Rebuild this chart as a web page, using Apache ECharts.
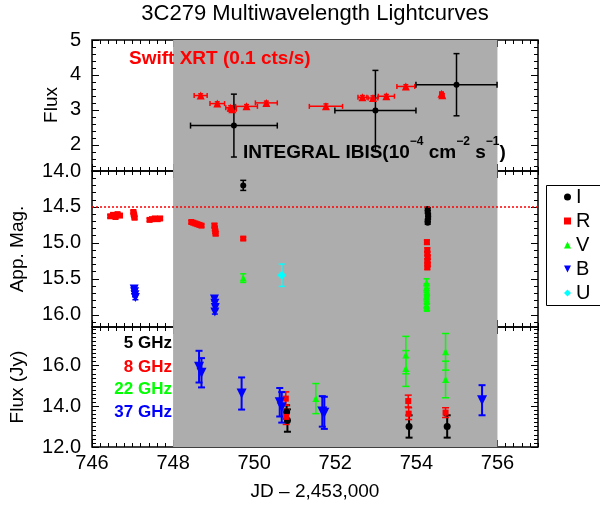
<!DOCTYPE html>
<html>
<head>
<meta charset="utf-8">
<script src="https://cdn.jsdelivr.net/npm/echarts@6/dist/echarts.min.js"></script>
<style>html,body{margin:0;padding:0;background:#fff}#c{width:600px;height:508px}</style>
</head>
<body>
<div id="c"></div>
<script>
// ---------------- data ----------------
const chartTitle = '3C279 Multiwavelength Lightcurves';
const xName = 'JD \u2013 2,453,000';
const xRange = [746, 757];
const xMajorTicks = [746, 748, 750, 752, 754, 756];
const xMinorStep = 0.2;
const shadeRange = [748, 756];

const topRange = [1.25, 5];
const topTicks = [2, 3, 4, 5];
const topMinorStep = 0.2;
const midRange = [14.0, 16.17];
const midTicks = [14.0, 14.5, 15.0, 15.5, 16.0];
const midMinorStep = 0.1;
const botRange = [12, 17.9];
const botTicks = [12, 14, 16];
const botMinorStep = 0.2;
const magLimit = 14.5;

// Swift XRT: [JD, flux(0.1 cts/s), xerr, yerr]
const swiftXrt = [
  [748.68, 3.41, 0.16, 0.05],
  [749.09, 3.18, 0.18, 0.05],
  [749.42, 3.06, 0.12, 0.06],
  [749.46, 3.02, 0.10, 0.05],
  [749.81, 3.10, 0.27, 0.05],
  [750.30, 3.20, 0.27, 0.05],
  [751.77, 3.10, 0.41, 0.07],
  [752.67, 3.36, 0.11, 0.05],
  [752.93, 3.34, 0.12, 0.06],
  [753.26, 3.39, 0.20, 0.05],
  [753.74, 3.67, 0.22, 0.05],
  [754.62, 3.46, 0.04, 0.04],
  [754.64, 3.42, 0.04, 0.04]
];
// INTEGRAL IBIS: [JD, flux(1e-4 cm-2 s-1), xerr, yerr]
const integralIbis = [
  [749.50, 2.55, 1.07, 0.90],
  [752.99, 2.98, 1.00, 1.15],
  [754.99, 3.72, 1.00, 0.89]
];

// Optical/UV magnitudes: [JD, mag, err]
const magI = [
  [749.73, 14.20, 0.07],
  [754.28, 14.53, 0.02], [754.28, 14.57, 0.02], [754.29, 14.61, 0.02],
  [754.29, 14.65, 0.02], [754.28, 14.69, 0.02], [754.28, 14.72, 0.02]
];
const magR = [
  [746.45, 14.63, 0.02], [746.52, 14.61, 0.02], [746.58, 14.64, 0.02], [746.63, 14.60, 0.02], [746.69, 14.62, 0.02],
  [747.02, 14.57, 0.02], [747.03, 14.60, 0.02], [747.04, 14.62, 0.02], [747.05, 14.65, 0.02],
  [747.42, 14.68, 0.02], [747.48, 14.67, 0.02], [747.55, 14.66, 0.02], [747.62, 14.67, 0.02], [747.68, 14.66, 0.02],
  [748.45, 14.71, 0.02], [748.50, 14.72, 0.02], [748.55, 14.73, 0.02], [748.60, 14.74, 0.02], [748.65, 14.75, 0.02], [748.70, 14.76, 0.02],
  [749.02, 14.76, 0.03], [749.03, 14.80, 0.03], [749.04, 14.84, 0.03], [749.05, 14.87, 0.03],
  [749.73, 14.94, 0.02],
  [754.26, 14.99, 0.03], [754.27, 15.10, 0.03], [754.27, 15.15, 0.03], [754.28, 15.20, 0.03],
  [754.27, 15.25, 0.03], [754.28, 15.30, 0.03], [754.27, 15.34, 0.03]
];
const magV = [
  [749.73, 15.49, 0.06],
  [754.25, 15.55, 0.05], [754.25, 15.62, 0.05], [754.26, 15.68, 0.05], [754.25, 15.74, 0.05],
  [754.26, 15.80, 0.05], [754.25, 15.86, 0.05], [754.26, 15.90, 0.05]
];
const magB = [
  [747.04, 15.64, 0.03], [747.05, 15.68, 0.03], [747.06, 15.72, 0.03], [747.07, 15.76, 0.03],
  [749.02, 15.78, 0.03], [749.03, 15.84, 0.03], [749.04, 15.90, 0.03], [749.03, 15.96, 0.03]
];
const magU = [
  [750.68, 15.45, 0.155]
];

// Radio fluxes (Jy): [JD, flux, err]
const radio5 = [[750.80, 13.72, 0.33], [750.82, 13.30, 0.55], [753.82, 13.01, 0.55], [754.76, 13.01, 0.55]];
const radio8 = [[750.78, 14.38, 0.33], [750.79, 13.48, 0.37], [753.80, 14.26, 0.29], [753.81, 13.64, 0.29], [754.72, 13.69, 0.24]];
const radio22 = [[751.52, 14.38, 0.74], [753.74, 16.52, 0.92], [753.74, 15.86, 0.88], [754.72, 16.68, 0.90], [754.72, 15.32, 0.90]];
const radio37 = [[748.64, 15.95, 0.78], [748.70, 15.65, 0.72], [749.69, 14.63, 0.79], [750.63, 14.20, 0.70],
                 [750.68, 13.95, 0.75], [751.68, 13.75, 0.75], [751.73, 13.68, 0.79], [755.62, 14.30, 0.74]];

const radioLabels = ['5 GHz', '8 GHz', '22 GHz', '37 GHz'];
const legendNames = ['I', 'R', 'V', 'B', 'U'];

// ---------------- styling ----------------
const FONT = "'Liberation Sans', Arial, Helvetica, sans-serif";
const BLACK = '#000000', RED = '#ff0000', GREEN = '#00ff00', BLUE = '#0000ff', CYAN = '#00ffff';
const GRAY = '#adadad';
const DOWN_TRI = 'path://M0,0L10,0L5,10Z';

function steps(a, b, s) {
  const out = [];
  const n = Math.round((b - a) / s);
  for (let i = 0; i <= n; i++) out.push(+(a + i * s).toFixed(4));
  return out;
}

const panels = [
  {top: 40, height: 131, range: topRange, ticks: topTicks, minor: steps(1.4, 5, topMinorStep), inverse: false, fmt: v => String(v)},
  {top: 171, height: 156, range: midRange, ticks: midTicks, minor: steps(14.0, 16.1, midMinorStep), inverse: true, fmt: v => v.toFixed(1)},
  {top: 327, height: 120, range: botRange, ticks: botTicks, minor: steps(12, 17.8, botMinorStep), inverse: false, fmt: v => v.toFixed(1)}
];
const xMinor = steps(xRange[0], xRange[1], xMinorStep);

const grids = [], xAxes = [], yAxes = [];
panels.forEach((p) => {
  grids.push({left: 92, right: 62, top: p.top, height: p.height, show: true, borderColor: BLACK, borderWidth: 1.5, backgroundColor: 'transparent'});
});
panels.forEach((p) => {
  grids.push({left: 92, right: 62, top: p.top, height: p.height, show: false});
});
// axes: grid g -> xAxis 2g (bottom), 2g+1 (top); yAxis 2g (left), 2g+1 (right)
for (let g = 0; g < 6; g++) {
  const p = panels[g % 3];
  const isMinor = g >= 3;
  const xt = isMinor ? xMinor : xMajorTicks;
  const yt = isMinor ? p.minor : p.ticks;
  const len = isMinor ? 4 : 7;
  const xBase = {type: 'value', gridIndex: g, min: xRange[0], max: xRange[1], splitLine: {show: false}, axisLine: {show: false},
                 axisTick: {show: true, inside: true, length: len, customValues: xt, lineStyle: {color: BLACK, width: 1}}};
  const showXLabel = (g === 2);
  xAxes.push(Object.assign({}, xBase, {position: 'bottom',
    axisLabel: showXLabel ? {show: true, customValues: xMajorTicks, fontSize: 20, color: BLACK, fontFamily: FONT, margin: 6} : {show: false}}));
  xAxes.push(Object.assign({}, xBase, {position: 'top', axisLabel: {show: false}}));
  const yBase = {type: 'value', gridIndex: g, min: p.range[0], max: p.range[1], inverse: p.inverse, splitLine: {show: false}, axisLine: {show: false},
                 axisTick: {show: true, inside: true, length: len, customValues: yt, lineStyle: {color: BLACK, width: 1}}};
  yAxes.push(Object.assign({}, yBase, {position: 'left',
    axisLabel: !isMinor ? {show: true, customValues: p.ticks, formatter: p.fmt, fontSize: 20, color: BLACK, fontFamily: FONT, margin: 11} : {show: false}}));
  yAxes.push(Object.assign({}, yBase, {position: 'right', axisLabel: {show: false}}));
}

function errorBars(name, data, color, g, xeIdx, yeIdx, lw, cap) {
  return {
    type: 'custom', name: name, xAxisIndex: 2 * g, yAxisIndex: 2 * g, data: data, z: 3, silent: true, clip: true,
    encode: {x: 0, y: 1},
    renderItem(params, api) {
      const x = api.value(0), y = api.value(1);
      const kids = [];
      const st = {stroke: color, lineWidth: lw, fill: null};
      if (yeIdx != null) {
        const e = api.value(yeIdx);
        const a = api.coord([x, y - e]), b = api.coord([x, y + e]);
        kids.push({type: 'line', shape: {x1: a[0], y1: a[1], x2: b[0], y2: b[1]}, style: st});
        kids.push({type: 'line', shape: {x1: a[0] - cap, y1: a[1], x2: a[0] + cap, y2: a[1]}, style: st});
        kids.push({type: 'line', shape: {x1: b[0] - cap, y1: b[1], x2: b[0] + cap, y2: b[1]}, style: st});
      }
      if (xeIdx != null) {
        const e = api.value(xeIdx);
        const a = api.coord([x - e, y]), b = api.coord([x + e, y]);
        kids.push({type: 'line', shape: {x1: a[0], y1: a[1], x2: b[0], y2: b[1]}, style: st});
        kids.push({type: 'line', shape: {x1: a[0], y1: a[1] - cap, x2: a[0], y2: a[1] + cap}, style: st});
        kids.push({type: 'line', shape: {x1: b[0], y1: b[1] - cap, x2: b[0], y2: b[1] + cap}, style: st});
      }
      return {type: 'group', children: kids};
    }
  };
}
function points(name, data, color, g, symbol, size, rotate) {
  return {
    type: 'scatter', name: name, xAxisIndex: 2 * g, yAxisIndex: 2 * g, z: 4,
    data: data.map(d => [d[0], d[1]]),
    symbol: symbol, symbolSize: size, symbolRotate: rotate || 0,
    itemStyle: {color: color, opacity: 1}, silent: true
  };
}
function shade(g) {
  const s = {
    type: 'scatter', name: 'shade' + g, xAxisIndex: 2 * g, yAxisIndex: 2 * g, data: [], z: 1, silent: true,
    markArea: {silent: true, itemStyle: {color: GRAY, opacity: 1}, data: [[{xAxis: shadeRange[0]}, {xAxis: shadeRange[1]}]]}
  };
  if (g === 1) {
    s.markLine = {silent: true, symbol: ['none', 'none'], label: {show: false},
      lineStyle: {color: RED, type: [2, 2], width: 1.5}, data: [{yAxis: magLimit}]};
  }
  return s;
}

const series = [
  shade(0), shade(1), shade(2),
  // top panel
  errorBars('Swift XRT err', swiftXrt, RED, 0, 2, 3, 1.5, 2.5),
  points('Swift XRT', swiftXrt, RED, 0, 'triangle', 8),
  errorBars('INTEGRAL IBIS err', integralIbis, BLACK, 0, 2, 3, 1.5, 3),
  points('INTEGRAL IBIS', integralIbis, BLACK, 0, 'circle', 6),
  // middle panel
  errorBars('I err', magI, BLACK, 1, null, 2, 1.5, 3),
  errorBars('R err', magR, RED, 1, null, 2, 1.5, 3),
  errorBars('V err', magV, GREEN, 1, null, 2, 1.5, 3),
  errorBars('B err', magB, BLUE, 1, null, 2, 1.5, 3),
  errorBars('U err', magU, CYAN, 1, null, 2, 1.5, 3),
  points('I', magI, BLACK, 1, 'circle', 6),
  points('R', magR, RED, 1, 'rect', 6),
  points('V', magV, GREEN, 1, 'triangle', 7),
  points('B', magB, BLUE, 1, 'triangle', 9, 180),
  points('U', magU, CYAN, 1, 'diamond', 9),
  // bottom panel
  errorBars('5 GHz err', radio5, BLACK, 2, null, 2, 2, 3.5),
  errorBars('8 GHz err', radio8, RED, 2, null, 2, 1.5, 3.5),
  errorBars('22 GHz err', radio22, GREEN, 2, null, 2, 1.5, 3.5),
  errorBars('37 GHz err', radio37, BLUE, 2, null, 2, 2, 3.5),
  points('5 GHz', radio5, BLACK, 2, 'circle', 7),
  points('8 GHz', radio8, RED, 2, 'rect', 6),
  points('22 GHz', radio22, GREEN, 2, 'triangle', 7),
  points('37 GHz', radio37, BLUE, 2, 'triangle', 10, 180)
];

const legendIcons = {I: 'circle', R: 'rect', V: 'triangle', B: DOWN_TRI, U: 'diamond'};
const radioColors = [BLACK, RED, GREEN, BLUE];
const radioY = [343, 367.5, 389.5, 412];

const graphics = [
  {type: 'rect', left: 546, top: 185, shape: {width: 90, height: 120}, style: {fill: '#fff', stroke: BLACK, lineWidth: 1}, z: 5},
  {type: 'text', x: 129, y: 59, z: 10, style: {text: 'Swift XRT (0.1 cts/s)', fill: RED, fontSize: 19, fontWeight: 'bold', fontFamily: FONT, verticalAlign: 'middle'}},
  {type: 'text', x: 243, y: 149, z: 10, style: {
    text: '{b|INTEGRAL IBIS(10}{s|\u22124}{b| cm}{s|\u22122}{b| s}{s|\u22121}{b|)}',
    verticalAlign: 'middle',
    rich: {
      b: {fill: BLACK, fontSize: 19, fontWeight: 'bold', fontFamily: FONT, lineHeight: 26, verticalAlign: 'bottom'},
      s: {fill: BLACK, fontSize: 12, fontWeight: 'bold', fontFamily: FONT, lineHeight: 26, verticalAlign: 'top'}
    }}},
  {type: 'text', x: 52, y: 105, rotation: Math.PI / 2, style: {text: 'Flux', fill: BLACK, fontSize: 19, fontFamily: FONT, align: 'center', verticalAlign: 'middle'}},
  {type: 'text', x: 18, y: 249, rotation: Math.PI / 2, style: {text: 'App. Mag.', fill: BLACK, fontSize: 19, fontFamily: FONT, align: 'center', verticalAlign: 'middle'}},
  {type: 'text', x: 18, y: 387, rotation: Math.PI / 2, style: {text: 'Flux (Jy)', fill: BLACK, fontSize: 19, fontFamily: FONT, align: 'center', verticalAlign: 'middle'}},
  {type: 'text', x: 315, y: 492, style: {text: xName, fill: BLACK, fontSize: 19, fontFamily: FONT, align: 'center', verticalAlign: 'middle'}}
];
radioLabels.forEach((t, i) => {
  graphics.push({type: 'text', x: 172, y: radioY[i], z: 10, style: {text: t, fill: radioColors[i], fontSize: 17, fontWeight: 'bold', fontFamily: FONT, align: 'right', verticalAlign: 'middle'}});
});

const chart = echarts.init(document.getElementById('c'), null, {renderer: 'canvas'});
chart.setOption({
  animation: false,
  backgroundColor: '#fff',
  title: {text: chartTitle, left: 315, textAlign: 'center', top: 3, padding: 0,
          textStyle: {fontSize: 22, fontWeight: 'normal', color: BLACK, fontFamily: FONT}},
  legend: {
    orient: 'vertical', left: 564, top: 187, itemWidth: 7, itemHeight: 7, itemGap: 4, padding: 0, z: 6,
    selectedMode: false,
    textStyle: {fontSize: 20, lineHeight: 20, color: BLACK, fontFamily: FONT},
    data: legendNames.map(n => ({name: n, icon: legendIcons[n]}))
  },
  grid: grids,
  xAxis: xAxes,
  yAxis: yAxes,
  series: series,
  graphic: graphics
});
</script>
</body>
</html>
